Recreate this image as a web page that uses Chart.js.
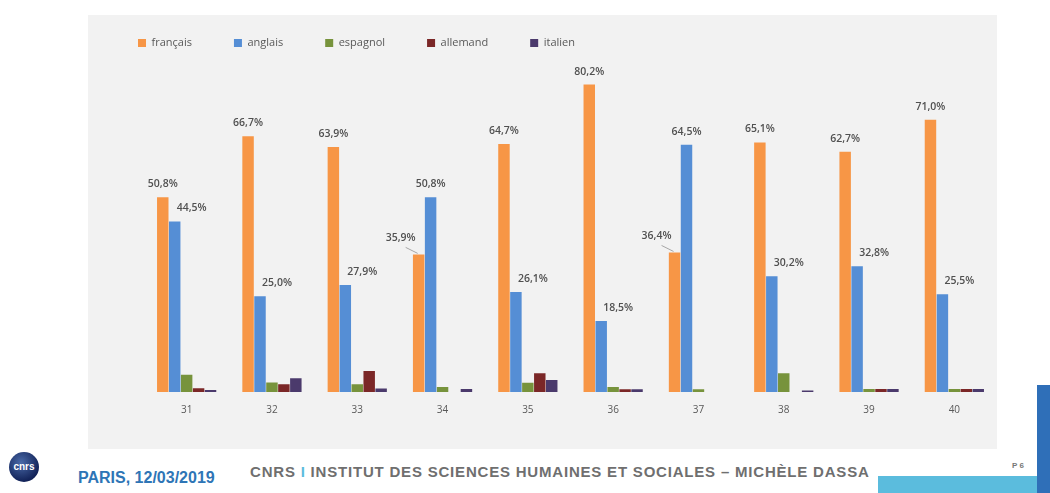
<!DOCTYPE html>
<html>
<head>
<meta charset="utf-8">
<script src="https://cdn.jsdelivr.net/npm/chart.js@4"></script>
<style>
    body { margin: 0; width: 1050px; height: 493px; background: #ffffff; position: relative; overflow: hidden; }
    #chart-box { position: absolute; left: 88px; top: 15px; width: 909px; height: 434px; background: #f2f2f2; }
    #logo { position: absolute; left: 9px; top: 452px; width: 30px; height: 30px; border-radius: 50%;
        background: radial-gradient(circle at 40% 35%, #4a6aa8, #13245a 70%, #0b1640);
        color: #fff; font: bold 10px 'Liberation Sans', sans-serif; text-align: center; line-height: 30px; }
    #date { position: absolute; left: 78px; top: 469px; font: bold 16px 'Liberation Sans', sans-serif; color: #2e75b6; }
    #title { position: absolute; left: 250px; top: 463px; font: bold 15px 'Liberation Sans Narrow', 'Liberation Sans', sans-serif; letter-spacing: 0.8px; color: #6f6f6f; white-space: nowrap; }
    #title .sep { color: #5bbcdd; }
    #page { position: absolute; left: 1012px; top: 461px; font: bold 8px 'Liberation Sans', sans-serif; color: #777; }
    #bar-v { position: absolute; left: 1037px; top: 385px; width: 13px; height: 108px; background: #2f6fb8; }
    #bar-h { position: absolute; left: 878px; top: 476px; width: 159px; height: 17px; background: #5bbcdd; }
</style>
</head>
<body>
<div id="chart-box"><canvas id="chart" width="909" height="434"></canvas></div>
<div id="logo">cnrs</div>
<div id="date">PARIS, 12/03/2019</div>
<div id="title">CNRS <span class="sep">I</span> INSTITUT DES SCIENCES HUMAINES ET SOCIALES – MICHÈLE DASSA</div>
<div id="page">P 6</div>
<div id="bar-h"></div>
<div id="bar-v"></div>
<script>
// values (percent)
const categories = ['31', '32', '33', '34', '35', '36', '37', '38', '39', '40'];
const francais = [50.8, 66.7, 63.9, 35.9, 64.7, 80.2, 36.4, 65.1, 62.7, 71.0];
const anglais = [44.5, 25.0, 27.9, 50.8, 26.1, 18.5, 64.5, 30.2, 32.8, 25.5];
const espagnol = [4.5, 2.5, 2.0, 1.3, 2.4, 1.3, 0.7, 4.9, 0.8, 0.8];
const allemand = [1.0, 2.0, 5.5, 0, 4.9, 0.7, 0, 0, 0.8, 0.8];
const italien = [0.5, 3.6, 0.9, 0.8, 3.1, 0.7, 0, 0.4, 0.8, 0.8];

function fmt(v) {
    return v.toFixed(1).replace('.', ',') + '%';
}

// labels above the français / anglais bars, like the Excel ones
const barLabels = {
    id: 'barLabels',
    afterDatasetsDraw(chart) {
        const ctx = chart.ctx;
        ctx.save();
        ctx.font = '600 10.5px "Open Sans", sans-serif';
        ctx.fillStyle = '#505050';
        ctx.textAlign = 'center';
        ctx.textBaseline = 'middle';
        for (let d = 0; d < 2; d++) {
            const meta = chart.getDatasetMeta(d);
            meta.data.forEach((bar, i) => {
                let x = bar.x;
                let y = bar.y - 13;
                if (d === 0 && francais[i] < anglais[i]) {
                    x = bar.x - 18;
                    y = bar.y - 16;
                    ctx.strokeStyle = '#a6a6a6';
                    ctx.lineWidth = 1;
                    ctx.beginPath();
                    ctx.moveTo(bar.x - 13, bar.y - 7);
                    ctx.lineTo(bar.x - 1, bar.y - 1);
                    ctx.stroke();
                }
                if (d === 1 && anglais[i] < francais[i]) {
                    x = bar.x + 17;
                }
                ctx.fillText(fmt(chart.data.datasets[d].data[i]), x, y);
            });
        }
        ctx.restore();
    }
};

const ctx = document.getElementById('chart').getContext('2d');
const chart = new Chart(ctx, {
    type: 'bar',
    data: {
        labels: categories,
        datasets: [
            { label: 'français', data: francais, backgroundColor: '#f79646' },
            { label: 'anglais', data: anglais, backgroundColor: '#558ed5' },
            { label: 'espagnol', data: espagnol, backgroundColor: '#77933c' },
            { label: 'allemand', data: allemand, backgroundColor: '#7b2727' },
            { label: 'italien', data: italien, backgroundColor: '#4b3a6c' }
        ]
    },
    options: {
        responsive: false,
        animation: false,
        layout: { padding: { left: 8, right: 0, top: -19.5, bottom: 21 } },
        datasets: { bar: { categoryPercentage: 0.7, barPercentage: 0.96 } },
        scales: {
            x: {
                grid: { display: false, drawTicks: false },
                border: { display: false },
                ticks: { padding: 12, color: '#595959', font: { family: '"Open Sans", sans-serif', size: 10 } }
            },
            y: {
                min: 0,
                max: 87,
                grid: { display: false, drawTicks: false },
                border: { display: false },
                ticks: { display: false },
                afterFit: (scale) => { scale.width = 48; }
            }
        },
        plugins: {
            legend: {
                position: 'top',
                align: 'start',
                labels: {
                    boxWidth: 8,
                    boxHeight: 8,
                    padding: 42,
                    color: '#595959',
                    font: { family: '"Open Sans", sans-serif', size: 11 }
                }
            },
            tooltip: { enabled: false }
        }
    },
    plugins: [barLabels]
});
</script>
</body>
</html>
